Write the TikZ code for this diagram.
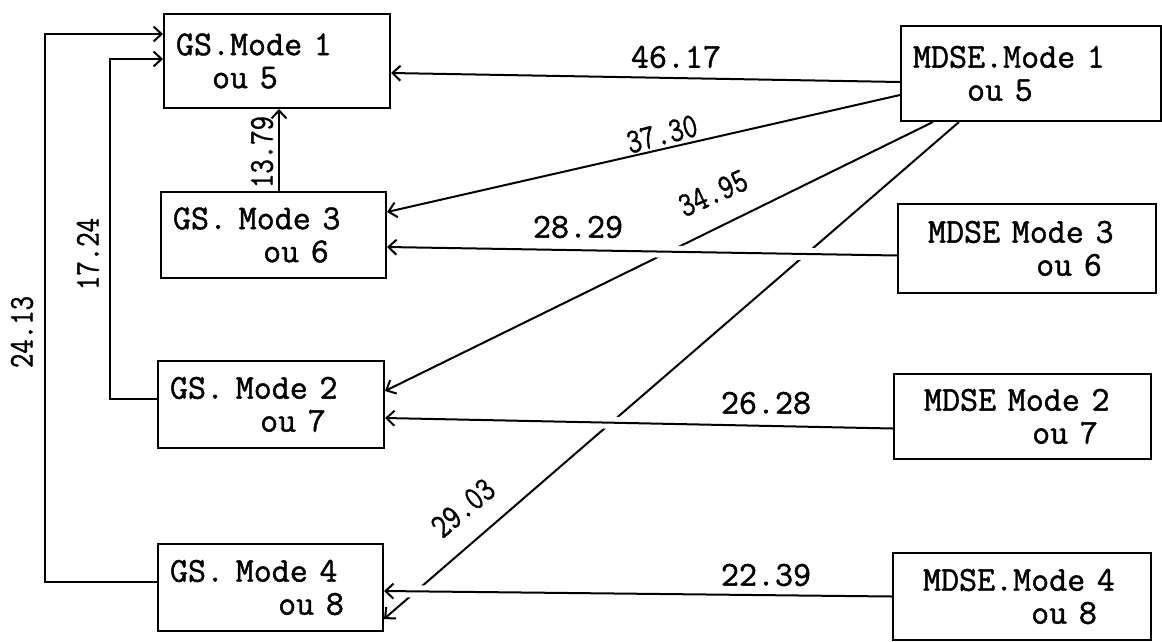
\documentclass[tikz,border=0pt]{standalone}
\usepackage{graphicx}
\usepackage{fontspec}
\setmonofont{Latin Modern Mono}[FakeBold=1.2]
\usetikzlibrary{arrows.meta}

\tikzset{
  >={Straight Barb[length=8pt,width=15pt]},
  modebox/.style={draw, line width=2pt, anchor=north west, align=left,
    inner xsep=12pt, inner ysep=0pt, text width=#1},
  conn/.style={line width=2pt},
  halo/.style={white, line width=12pt},
  num/.style={inner sep=0pt},
}
\newcommand{\pad}[1]{\hspace*{#1\fontcharwd\font`0}}
\newcommand{\narrow}[1]{\scalebox{.8}[1]{#1}}
\newcommand{\typewriter}{\ttfamily\fontsize{35}{33}\selectfont\spaceskip=0.525em\relax}

\begin{document}
\begin{tikzpicture}[x=1pt, y=-1pt, font=\typewriter]
\useasboundingbox (0,0) rectangle (1162,641);

% GS side
\node[modebox=202pt, minimum height=94pt] (g1) at (163,13) {GS.Mode 1\\\pad{2}ou 5};
\node[modebox=201pt, minimum height=86pt] (g3) at (160,191) {GS. Mode 3\\\pad{5}ou 6};
\node[modebox=202pt, minimum height=87pt] (g2) at (157,360) {GS. Mode 2\\\pad{5}ou 7};
\node[modebox=201pt, minimum height=87pt] (g4) at (157,543) {GS. Mode 4\\\pad{6}ou 8};

% MDSE side
\node[modebox=236pt, minimum height=95pt] (m1) at (900,25) {MDSE.Mode 1\\\pad{3}ou 5};
\node[modebox=234pt, minimum height=89pt] (m3) at (897,203) {\pad{1}MDSE Mode 3\\\pad{7}ou 6};
\node[modebox=233pt, minimum height=85pt] (m2) at (893,373) {\pad{1}MDSE Mode 2\\\pad{7}ou 7};
\node[modebox=234pt, minimum height=87pt] (m4) at (892,552) {\pad{1}MDSE.Mode 4\\\pad{7}ou 8};

% slanted links
\draw[conn,->] ([yshift=-21.5pt]m1.west) -- ([yshift=23pt]g3.east);
\draw[conn,->] ([xshift=-98pt]m1.south) -- ([yshift=13.5pt]g2.east);
\draw[conn,->] ([xshift=-72pt]m1.south) -- ([yshift=-31.5pt]g4.east);

% gaps where the slanted links pass under
\draw[halo, shorten <=25pt, shorten >=55pt] ([yshift=-7pt]m3.west) -- ([yshift=-12pt]g3.east);
\draw[halo, shorten <=25pt, shorten >=55pt] ([yshift=-12pt]m2.west) -- ([yshift=-13.5pt]g2.east);
\draw[halo, shorten <=25pt, shorten >=22pt] (m4.west) -- ([yshift=-3.5pt]g4.east);

% straight links
\draw[conn,->] ([yshift=-8.5pt]m1.west) -- ([yshift=-12pt]g1.east);
\draw[conn,->] ([yshift=-7pt]m3.west) -- ([yshift=-12pt]g3.east);
\draw[conn,->] ([yshift=-12pt]m2.west) -- ([yshift=-13.5pt]g2.east);
\draw[conn,->] (m4.west) -- ([yshift=-3.5pt]g4.east);

% links between GS modes
\draw[conn,->] ([xshift=5.5pt]g3.north) -- ([xshift=2pt]g1.south);
\draw[conn,->] ([yshift=5.5pt]g2.west) -- ++(-47,0) |- ([yshift=2pt]g1.west);
\draw[conn,->] ([yshift=5.5pt]g4.west) -- ++(-112,0) |- ([yshift=27pt]g1.west);

% values
\node[num] (v4617) at (676,57) {46.17};
\node[num] (v2829) at (578,227) {28.29};
\node[num] (v2628) at (766,403) {26.28};
\node[num] (v2239) at (766,575) {22.39};
\node[num, rotate=15] (v3730) at (662,134) {\narrow{37.30}};
\node[num, rotate=24] (v3495) at (713,193) {\narrow{34.95}};
\node[num, rotate=40] (v2903) at (463,508) {\narrow{29.03}};
\node[num, rotate=90] (v1379) at (262,152) {\narrow{13.79}};
\node[num, rotate=90] (v1724) at (88,254) {\narrow{17.24}};
\node[num, rotate=90] (v2413) at (22,332) {\narrow{24.13}};
\end{tikzpicture}
\end{document}
